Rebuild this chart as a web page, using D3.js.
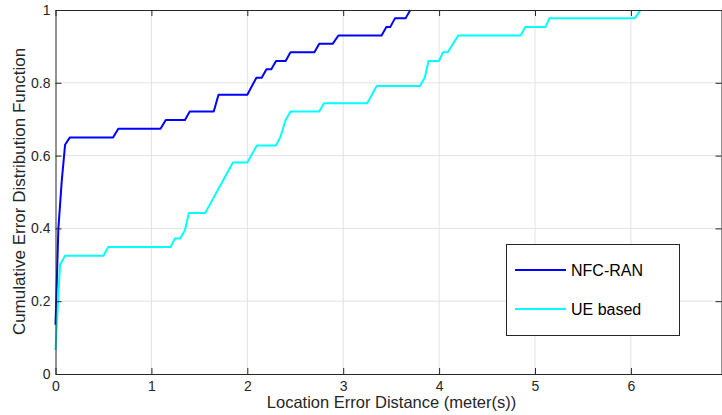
<!DOCTYPE html>
<html>
<head>
<meta charset="utf-8">
<script src="https://cdn.jsdelivr.net/npm/d3@7"></script>
<style>
  body { margin: 0; background: #fff; }
  svg { display: block; }
</style>
</head>
<body>
<svg class="cdfchart"></svg>
<script>
// CDF of location error

let nfc_x = [0, 0.03, 0.065, 0.1, 0.15, 0.60, 0.655, 1.095, 1.15, 1.35, 1.40,
             1.65, 1.70, 2.0, 2.095, 2.15, 2.20, 2.25, 2.30, 2.40, 2.45, 2.70,
             2.75, 2.89, 2.95, 3.40, 3.45, 3.49, 3.54, 3.65, 3.70];
let nfc_y = [0.135, 0.40, 0.53, 0.63, 0.65, 0.65, 0.674, 0.674, 0.698, 0.698, 0.721,
             0.721, 0.767, 0.767, 0.814, 0.814, 0.837, 0.837, 0.860, 0.860, 0.884, 0.884,
             0.907, 0.907, 0.930, 0.930, 0.953, 0.953, 0.977, 0.977, 1.0];

let ue_x = [0, 0.047, 0.10, 0.50, 0.55, 1.20, 1.245, 1.30, 1.35, 1.39, 1.56,
            1.75, 1.85, 2.0, 2.10, 2.30, 2.345, 2.40, 2.45, 2.75, 2.80, 3.25,
            3.35, 3.80, 3.85, 3.89, 4.00, 4.04, 4.09, 4.20, 4.85, 4.90, 5.11,
            5.15, 6.04, 6.10];
let ue_y = [0.066, 0.30, 0.325, 0.325, 0.349, 0.349, 0.372, 0.372, 0.395, 0.442, 0.442,
            0.533, 0.581, 0.581, 0.628, 0.628, 0.651, 0.698, 0.721, 0.721, 0.744, 0.744,
            0.791, 0.791, 0.814, 0.860, 0.860, 0.884, 0.884, 0.930, 0.930, 0.953, 0.953,
            0.977, 0.977, 1.0];

let series_names = ["NFC-RAN", "UE based"];
let x_ticks = [0, 1, 2, 3, 4, 5, 6];
let y_ticks = [0, 0.2, 0.4, 0.6, 0.8, 1];

let w = 722;
let h = 415;

let svg = d3.select("svg.cdfchart")
    .attr("width", w)
    .attr("height", h);

let left = 55.5;
let right = 722;
let top_space = 10;
let bottom = 374;

let colors = ["#0000ff", "#00ffff"];
let axis_color = "#262626";
let font = "'Liberation Sans', Arial, sans-serif";

let x = d3.scaleLinear().domain([0, 6.95]).range([left, right]);
let y = d3.scaleLinear().domain([0, 1]).range([bottom, top_space]);

// grid
let grid = svg.append("g").attr("class", "grid");
grid.selectAll("line.vx")
    .data(x_ticks.slice(1))
    .enter().append("line")
    .attr("x1", d => x(d)).attr("x2", d => x(d))
    .attr("y1", top_space).attr("y2", bottom)
    .attr("stroke", "#e3e3e3").attr("stroke-width", 1);
grid.selectAll("line.hy")
    .data(y_ticks.slice(1, -1))
    .enter().append("line")
    .attr("x1", left).attr("x2", right)
    .attr("y1", d => y(d)).attr("y2", d => y(d))
    .attr("stroke", "#e3e3e3").attr("stroke-width", 1);

// lines
let line = d3.line().x(d => x(d[0])).y(d => y(d[1]));
let series = [d3.zip(nfc_x, nfc_y), d3.zip(ue_x, ue_y)];

svg.append("g").attr("class", "lines")
    .selectAll("path")
    .data(series)
    .enter().append("path")
    .attr("d", d => line(d))
    .attr("fill", "none")
    .attr("stroke", (d, i) => colors[i])
    .attr("stroke-width", 2)
    .attr("stroke-linejoin", "round");

// axes, ticks pointing inward on all four sides
function style_axis(g) {
    g.select(".domain").attr("stroke", axis_color);
    g.selectAll(".tick line").attr("stroke", axis_color);
    g.selectAll(".tick text")
        .attr("fill", axis_color)
        .style("font-family", font)
        .style("font-size", "14px");
}

svg.append("g")
    .attr("transform", "translate(0," + bottom + ")")
    .call(d3.axisBottom(x).tickValues(x_ticks).tickFormat(d3.format("d"))
          .tickSizeInner(-6).tickSizeOuter(0).tickPadding(7))
    .call(style_axis);

svg.append("g")
    .attr("transform", "translate(0," + top_space + ")")
    .call(d3.axisTop(x).tickValues(x_ticks).tickFormat("")
          .tickSizeInner(-6).tickSizeOuter(0))
    .call(style_axis);

svg.append("g")
    .attr("transform", "translate(" + left + ",0)")
    .call(d3.axisLeft(y).tickValues(y_ticks).tickFormat(d => d == 0 || d == 1 ? d : d3.format(".1f")(d))
          .tickSizeInner(-6).tickSizeOuter(0).tickPadding(5))
    .call(style_axis);

svg.append("g")
    .attr("transform", "translate(" + (right - 0.5) + ",0)")
    .call(d3.axisRight(y).tickValues(y_ticks).tickFormat("")
          .tickSizeInner(-6).tickSizeOuter(0))
    .call(style_axis);

// axis labels
svg.append("text")
    .attr("x", 391.5)
    .attr("y", 408)
    .attr("text-anchor", "middle")
    .attr("fill", axis_color)
    .style("font-family", font)
    .style("font-size", "16.5px")
    .text("Location Error Distance (meter(s))");

svg.append("text")
    .attr("transform", "translate(25,191.5) rotate(-90)")
    .attr("text-anchor", "middle")
    .attr("fill", axis_color)
    .style("font-family", font)
    .style("font-size", "17px")
    .text("Cumulative Error Distribution Function");

// legend
let legend = svg.append("g").attr("class", "legend");
legend.append("rect")
    .attr("x", 506.5).attr("y", 244.5)
    .attr("width", 173).attr("height", 91)
    .attr("fill", "#fff")
    .attr("stroke", axis_color);

let items = legend.selectAll("g.item")
    .data(series_names)
    .enter().append("g")
    .attr("transform", (d, i) => "translate(515," + (270 + i * 39) + ")");

items.append("line")
    .attr("x1", 0).attr("x2", 51)
    .attr("stroke", (d, i) => colors[i])
    .attr("stroke-width", 2);

items.append("text")
    .attr("x", 56)
    .attr("y", 6)
    .attr("fill", "#000")
    .style("font-family", font)
    .style("font-size", "16px")
    .text(d => d);
</script>
</body>
</html>
